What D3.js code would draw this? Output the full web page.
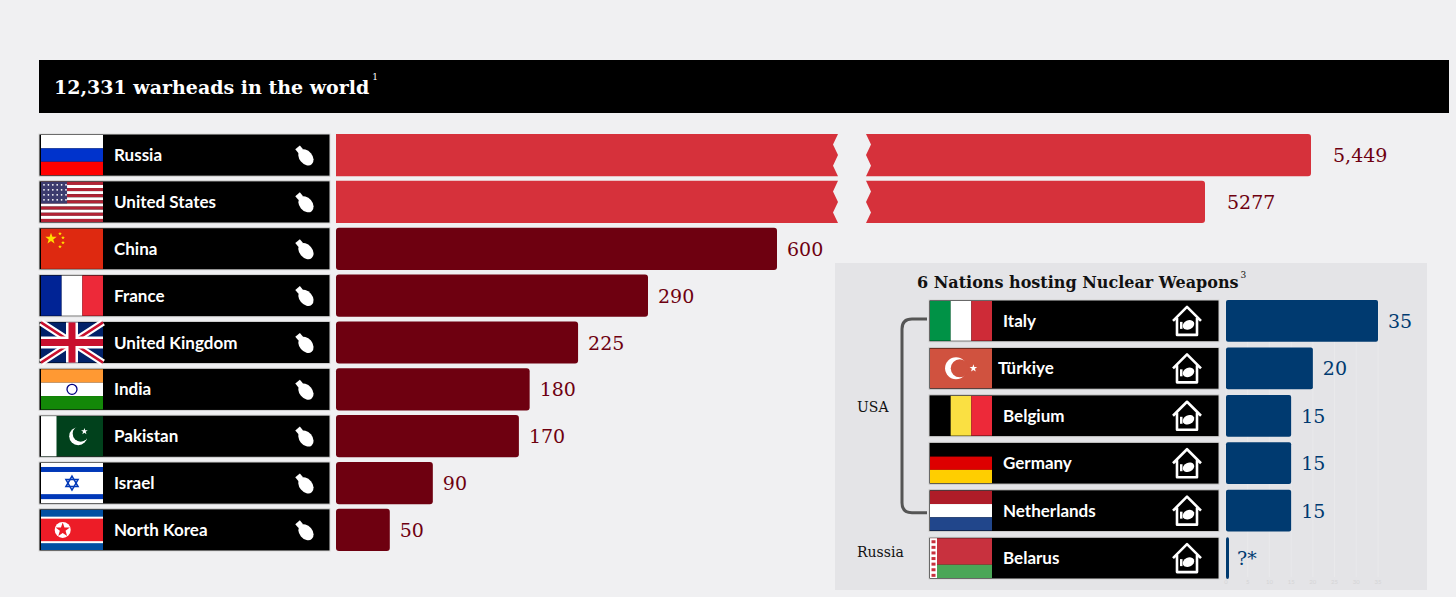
<!DOCTYPE html>
<html><head><meta charset="utf-8">
<script src="https://cdn.jsdelivr.net/npm/d3@7"></script>
<style>body{margin:0;background:#f0f0f2;}</style>
</head><body><div id="chart"></div>
<script>
// warheads per country
const countries = ["Russia","United States","China","France","United Kingdom","India","Pakistan","Israel","North Korea"];
const warheads = [5449, 5277, 600, 290, 225, 180, 170, 90, 50];
const valueLabels = ["5,449","5277","600","290","225","180","170","90","50"];

// hosting nations
const hosts = ["Italy","Türkiye","Belgium","Germany","Netherlands","Belarus"];
const hosted = [35, 20, 15, 15, 15, 0];
const hostedLabels = ["35","20","15","15","15","?*"];
const hostTicks = [0,5,10,15,20,25,30,35];

const W = 1456, H = 597;
const serif = "'DejaVu Serif', 'Liberation Serif', serif";
const sans = "Lato, 'Open Sans', sans-serif";

const svg = d3.select("#chart").append("svg").attr("width", W).attr("height", H);
svg.append("rect").attr("width", W).attr("height", H).attr("fill", "#f0f0f2");

// title bar
svg.append("rect").attr("x", 39).attr("y", 60).attr("width", 1410).attr("height", 53).attr("fill", "#000");
const title = svg.append("text").attr("x", 54).attr("y", 94).attr("fill", "#fff")
  .style("font-family", serif).style("font-weight", "bold").style("font-size", "19px")
  .text("12,331 warheads in the world");
title.append("tspan").attr("dy", -14).attr("dx", 3).style("font-size", "9px").style("font-weight", "normal").text("1");

// ---------- flags ----------
function flag(g, name, w, h) {
  const r = (x, y, ww, hh, c) => g.append("rect").attr("x", x).attr("y", y).attr("width", ww).attr("height", hh).attr("fill", c);
  const star = (cx, cy, R, c, n = 5) => {
    const pts = d3.range(n * 2).map(i => {
      const a = -Math.PI / 2 + i * Math.PI / n, rr = i % 2 ? R * 0.4 : R;
      return [cx + rr * Math.cos(a), cy + rr * Math.sin(a)];
    });
    g.append("polygon").attr("points", pts.join(" ")).attr("fill", c);
  };
  switch (name) {
    case "Russia": r(0,0,w,h/3,"#fff"); r(0,h/3,w,h/3,"#0033cc"); r(0,2*h/3,w,h/3,"#f00"); break;
    case "United States":
      d3.range(13).forEach(i => r(0, i*h/13, w, h/13, i%2 ? "#fff" : "#b22234"));
      r(0,0,w*0.42,h*7/13,"#3c3b6e");
      d3.range(4).forEach(j => d3.range(6).forEach(i => g.append("circle").attr("cx", 3+i*4.4).attr("cy", 3+j*5).attr("r", 0.9).attr("fill", "#fff")));
      break;
    case "China": r(0,0,w,h,"#de2910"); star(10,10,6,"#ffde00");
      [[19,5],[22,9],[22,14],[19,18]].forEach(p => star(p[0],p[1],2,"#ffde00")); break;
    case "France": r(0,0,w/3,h,"#002395"); r(w/3,0,w/3,h,"#fff"); r(2*w/3,0,w/3,h,"#ed2939"); break;
    case "United Kingdom":
      r(0,0,w,h,"#012169");
      g.append("path").attr("d", `M0,0L${w},${h}M${w},0L0,${h}`).attr("stroke", "#fff").attr("stroke-width", 7);
      g.append("path").attr("d", `M0,0L${w},${h}M${w},0L0,${h}`).attr("stroke", "#c8102e").attr("stroke-width", 2.5);
      r(w/2-6,0,12,h,"#fff"); r(0,h/2-6,w,12,"#fff");
      r(w/2-3.5,0,7,h,"#c8102e"); r(0,h/2-3.5,w,7,"#c8102e"); break;
    case "India": r(0,0,w,h/3,"#ff9933"); r(0,h/3,w,h/3,"#fff"); r(0,2*h/3,w,h/3,"#138808");
      g.append("circle").attr("cx", w/2).attr("cy", h/2).attr("r", 5).attr("fill", "none").attr("stroke", "#000080").attr("stroke-width", 1.3); break;
    case "Pakistan": r(0,0,w,h,"#01411c"); r(0,0,w/4,h,"#fff");
      g.append("circle").attr("cx", w*0.6).attr("cy", h/2).attr("r", 9).attr("fill", "#fff");
      g.append("circle").attr("cx", w*0.64).attr("cy", h/2-2.5).attr("r", 8).attr("fill", "#01411c");
      star(w*0.7, h*0.38, 3.5, "#fff"); break;
    case "Israel": r(0,0,w,h,"#fff"); r(0,4,w,5,"#0038b8"); r(0,h-9,w,5,"#0038b8");
      [0, Math.PI].forEach(o => {
        const pts = d3.range(3).map(i => { const a = -Math.PI/2 + o + i*2*Math.PI/3; return [w/2+7*Math.cos(a), h/2+7*Math.sin(a)]; });
        g.append("polygon").attr("points", pts.join(" ")).attr("fill", "none").attr("stroke", "#0038b8").attr("stroke-width", 1.5);
      }); break;
    case "North Korea": r(0,0,w,h,"#024fa2"); r(0,h*0.17,w,h*0.66,"#fff"); r(0,h*0.22,w,h*0.56,"#ed1c27");
      g.append("circle").attr("cx", w*0.35).attr("cy", h/2).attr("r", 8).attr("fill", "#fff"); star(w*0.35, h/2, 7.5, "#ed1c27"); break;
    case "Italy": r(0,0,w/3,h,"#009246"); r(w/3,0,w/3,h,"#fff"); r(2*w/3,0,w/3,h,"#ce2b37"); break;
    case "Türkiye": r(0,0,w,h,"#d0523f");
      g.append("circle").attr("cx", w*0.42).attr("cy", h/2).attr("r", 11).attr("fill", "#fff");
      g.append("circle").attr("cx", w*0.48).attr("cy", h/2).attr("r", 9).attr("fill", "#d0523f");
      star(w*0.7, h/2, 4, "#fff"); break;
    case "Belgium": r(0,0,w/3,h,"#000"); r(w/3,0,w/3,h,"#fae042"); r(2*w/3,0,w/3,h,"#ed2939"); break;
    case "Germany": r(0,0,w,h/3,"#000"); r(0,h/3,w,h/3,"#dd0000"); r(0,2*h/3,w,h/3,"#ffce00"); break;
    case "Netherlands": r(0,0,w,h/3,"#ae1c28"); r(0,h/3,w,h/3,"#fff"); r(0,2*h/3,w,h/3,"#21468b"); break;
    case "Belarus": r(0,0,w,h*2/3,"#c8313e"); r(0,h*2/3,w,h/3,"#4aa657"); r(0,0,7,h,"#fff");
      d3.range(7).forEach(i => r(1.5, 2+i*5.6, 4, 3, "#c8313e")); break;
  }
}

function bomb(g, x, y) {
  const b = g.append("g").attr("transform", `translate(${x},${y}) rotate(-40)`);
  b.append("ellipse").attr("cx", 0).attr("cy", 3).attr("rx", 6.5).attr("ry", 9).attr("fill", "#fff");
  b.append("rect").attr("x", -3).attr("y", -10).attr("width", 6).attr("height", 5).attr("fill", "#fff");
}

function house(g, x, y) {
  const h = g.append("g").attr("transform", `translate(${x},${y})`);
  h.append("path").attr("d", "M-14,0 L0,-14 L14,0 M-10,-3 V14 H10 V-3")
    .attr("fill", "none").attr("stroke", "#fff").attr("stroke-width", 2.6).attr("stroke-linejoin", "round");
  h.append("ellipse").attr("cx", 1.5).attr("cy", 4).attr("rx", 6).attr("ry", 4.5).attr("transform", "rotate(-25 1.5 4)").attr("fill", "#fff");
  h.append("rect").attr("x", -7).attr("y", 1).attr("width", 2.5).attr("height", 7).attr("fill", "#fff");
}

// ---------- main chart ----------
const y = d3.scaleBand().domain(countries).range([134, 551]).paddingInner(0.1).paddingOuter(0);
// broken scale: big values compressed past the gap
const x = d3.scaleLinear().domain([0, 290, 600, 5277, 5449]).range([336, 648, 777, 1205, 1311]);
const breakL = 838, breakR = 866;

countries.forEach((c, i) => {
  const y0 = y(c), bh = y.bandwidth();
  const g = svg.append("g");
  g.append("rect").attr("x", 39).attr("y", y0).attr("width", 291).attr("height", bh).attr("fill", "#000")
    .attr("stroke", "#d8d8d8").attr("stroke-width", 1);
  const fg = g.append("g").attr("transform", `translate(41,${y0 + 1})`);
  flag(fg, c, 62, bh - 2);
  g.append("text").attr("x", 114).attr("y", y0 + bh / 2 + 6).attr("fill", "#fff")
    .style("font-family", sans).style("font-weight", "bold").style("font-size", "17px").text(c);
  bomb(g, 304, y0 + bh / 2);

  const v = warheads[i];
  if (v > 600) {
    const z = 5, zy = [0, bh * 0.25, bh * 0.5, bh * 0.75, bh];
    const left = `M${x(0)},${y0} H${breakL} ` + zy.slice(1).map((t, k) => `L${breakL + (k % 2 ? 0 : -z)},${y0 + t - (k % 2 ? 0 : bh * 0.125)} L${breakL + (k % 2 ? -z : 0)},${y0 + t}`).join(" ") + ` H${x(0)} Z`;
    g.append("path").attr("d", `M${x(0)},${y0} H${breakL} L${breakL - z},${y0 + bh*0.25} L${breakL},${y0 + bh*0.5} L${breakL - z},${y0 + bh*0.75} L${breakL},${y0 + bh} H${x(0)} Z`).attr("fill", "#d6313b");
    g.append("path").attr("d", `M${breakR},${y0} H${x(v) - 3} Q${x(v)},${y0} ${x(v)},${y0 + 3} V${y0 + bh - 3} Q${x(v)},${y0 + bh} ${x(v) - 3},${y0 + bh} H${breakR} L${breakR + z},${y0 + bh*0.75} L${breakR},${y0 + bh*0.5} L${breakR + z},${y0 + bh*0.25} Z`).attr("fill", "#d6313b");
  } else {
    g.append("rect").attr("x", x(0)).attr("y", y0).attr("width", x(v) - x(0)).attr("height", bh).attr("rx", 3).attr("fill", "#6e0010");
  }
  g.append("text").attr("x", x(v) + (v > 600 ? 22 : 10)).attr("y", y0 + bh / 2 + 7).attr("fill", "#6e0010")
    .style("font-family", serif).style("font-size", "19px").text(valueLabels[i]);
});

// ---------- inset ----------
svg.append("rect").attr("x", 835).attr("y", 263).attr("width", 592).attr("height", 327).attr("fill", "#e4e4e7");
const it = svg.append("text").attr("x", 917).attr("y", 288).attr("fill", "#111")
  .style("font-family", serif).style("font-weight", "bold").style("font-size", "16px").text("6 Nations hosting Nuclear Weapons");
it.append("tspan").attr("dy", -10).attr("dx", 2).style("font-size", "9px").style("font-weight", "normal").text("3");

const yh = d3.scaleBand().domain(hosts).range([300, 579]).paddingInner(0.12).paddingOuter(0);
const xh = d3.scaleLinear().domain([0, 35]).range([1226, 1378]);

hostTicks.forEach(t => {
  svg.append("line").attr("x1", xh(t)).attr("x2", xh(t)).attr("y1", 300).attr("y2", 577).attr("stroke", "#e9e9eb").attr("stroke-width", 1);
  svg.append("text").attr("x", xh(t)).attr("y", 584).attr("text-anchor", "middle").attr("fill", "#d4d4d6")
    .style("font-family", sans).style("font-size", "6px").text(t);
});

hosts.forEach((c, i) => {
  const y0 = yh(c), bh = yh.bandwidth();
  const g = svg.append("g");
  g.append("rect").attr("x", 929).attr("y", y0).attr("width", 290).attr("height", bh).attr("fill", "#000")
    .attr("stroke", "#d0d0d0").attr("stroke-width", 1);
  const fg = g.append("g").attr("transform", `translate(930,${y0 + 1})`);
  flag(fg, c, 62, bh - 2);
  g.append("text").attr("x", c === "Türkiye" ? 998 : 1003).attr("y", y0 + bh / 2 + 6).attr("fill", "#fff")
    .style("font-family", sans).style("font-weight", "bold").style("font-size", "17px").text(c);
  house(g, 1187, y0 + bh / 2);
  const w = Math.max(xh(hosted[i]) - xh(0), 3);
  g.append("rect").attr("x", xh(0)).attr("y", y0).attr("width", w).attr("height", bh).attr("rx", 2).attr("fill", "#003a70");
  g.append("text").attr("x", xh(0) + w + (hosted[i] ? 10 : 8)).attr("y", y0 + bh / 2 + 7).attr("fill", "#003a70")
    .style("font-family", serif).style("font-size", "19px").text(hostedLabels[i]);
});

// bracket for USA hosts
const by1 = yh("Italy") + yh.bandwidth() / 2 - 2, by2 = yh("Netherlands") + yh.bandwidth() / 2 + 2;
svg.append("path").attr("d", `M927,${by1} H912 Q902,${by1} 902,${by1 + 10} V${by2 - 10} Q902,${by2} 912,${by2} H927`)
  .attr("fill", "none").attr("stroke", "#555").attr("stroke-width", 3);
svg.append("text").attr("x", 857).attr("y", 412).attr("fill", "#111").style("font-family", serif).style("font-size", "14px").text("USA");
svg.append("text").attr("x", 857).attr("y", 557).attr("fill", "#111").style("font-family", serif).style("font-size", "14px").text("Russia");
</script>
</body></html>
